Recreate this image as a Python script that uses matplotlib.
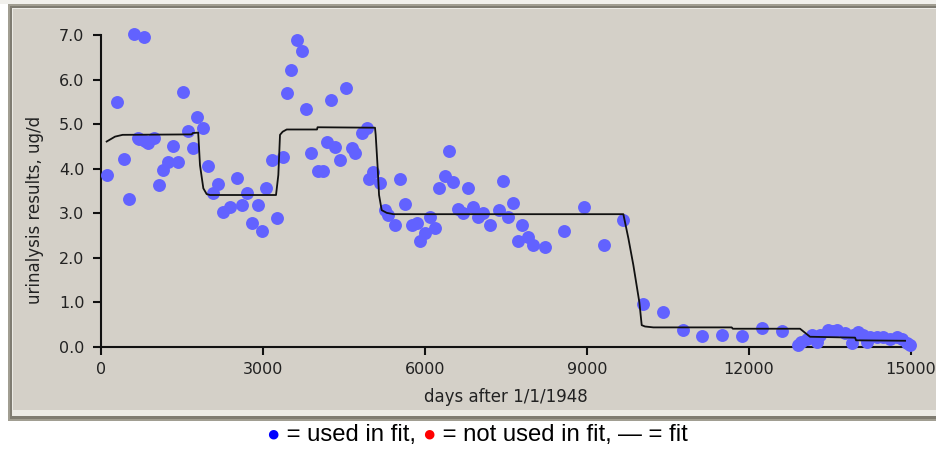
import matplotlib
matplotlib.use("Agg")
import matplotlib.pyplot as plt
from matplotlib.patches import Rectangle

# ---- data ----
days = [105, 290, 432, 513, 617, 690, 710, 796, 815, 876, 987, 1074, 1154, 1247, 1333,
        1432, 1525, 1605, 1704, 1784, 1895, 1988, 2080, 2161, 2265, 2389, 2525, 2605,
        2698, 2790, 2914, 2975, 3056, 3161, 3254, 3364, 3439, 3519, 3624, 3717, 3797,
        3889, 4013, 4105, 4180, 4254, 4334, 4426, 4531, 4642, 4704, 4828, 4920, 4970,
        5043, 5167, 5260, 5321, 5445, 5537, 5630, 5754, 5846, 5908, 6000, 6093, 6186,
        6260, 6371, 6445, 6525, 6618, 6711, 6803, 6895, 6988, 7080, 7204, 7370, 7440,
        7543, 7636, 7728, 7791, 7914, 8006, 8223, 8580, 8945, 9321, 9673, 10040, 10414,
        10773, 11136, 11507, 11866, 12236, 12606, 12900, 12960, 13069, 13162, 13254,
        13316, 13470, 13550, 13624, 13779, 13902, 13933, 14026, 14118, 14180, 14241,
        14365, 14488, 14612, 14735, 14828, 14920, 14980]
ugd = [3.87, 5.49, 4.21, 3.31, 7.02, 4.68, 4.66, 6.96, 4.62, 4.57, 4.70, 3.63, 3.97, 4.16, 4.50,
       4.16, 5.71, 4.85, 4.47, 5.15, 4.91, 4.06, 3.45, 3.65, 3.02, 3.13, 3.80, 3.19,
       3.46, 2.78, 3.19, 2.60, 3.56, 4.20, 2.89, 4.27, 5.69, 6.21, 6.89, 6.64, 5.34,
       4.35, 3.95, 3.95, 4.61, 5.54, 4.48, 4.20, 5.82, 4.46, 4.35, 4.80, 4.91, 3.77,
       3.93, 3.67, 3.07, 2.96, 2.74, 3.77, 3.20, 2.74, 2.78, 2.38, 2.55, 2.92, 2.66,
       3.56, 3.84, 4.40, 3.71, 3.10, 3.00, 3.56, 3.15, 2.92, 3.00, 2.74, 3.07, 3.73,
       2.92, 3.22, 2.38, 2.74, 2.47, 2.29, 2.25, 2.60, 3.13, 2.29, 2.85, 0.97, 0.79,
       0.38, 0.25, 0.28, 0.25, 0.42, 0.37, 0.05, 0.12, 0.19, 0.27, 0.12,
       0.27, 0.38, 0.36, 0.38, 0.31, 0.08, 0.27, 0.34, 0.27, 0.12, 0.23,
       0.23, 0.22, 0.19, 0.22, 0.19, 0.08, 0.04]

fit_days = [105, 260, 400, 1680, 1700, 1800, 1833, 1895, 1957, 2019, 3241, 3284, 3315,
            3364, 3439, 4000, 4010, 5074, 5087, 5124, 5149, 5198, 5291, 5414, 9673,
            9766, 9858, 9970, 10013, 10075, 10229, 11680, 11700, 12945, 13130, 13964,
            13983, 14890]
fit_ugd = [4.61, 4.72, 4.76, 4.77, 4.80, 4.81, 4.08, 3.56, 3.43, 3.41, 3.41, 3.86, 4.76,
           4.83, 4.88, 4.88, 4.93, 4.92, 4.76, 4.01, 3.41, 3.07, 3.01, 2.98, 2.98,
           2.44, 1.84, 1.00, 0.49, 0.46, 0.44, 0.44, 0.41, 0.41, 0.23, 0.21,
           0.15, 0.14]

x_ticks = [0, 3000, 6000, 9000, 12000, 15000]
y_ticks = [0.0, 1.0, 2.0, 3.0, 4.0, 5.0, 6.0, 7.0]
x_label = "days after 1/1/1948"
y_label = "urinalysis results, ug/d"
legend_parts = ["●", " = used in fit, ", "●", " = not used in fit, ", "— = fit"]

W, H = 937, 449
fig = plt.figure(figsize=(W / 100, H / 100), dpi=100)
fig.patch.set_facecolor("white")

def prect(x0, ytop0, x1, ytop1, color):
    fig.patches.append(Rectangle((x0, H - ytop1), x1 - x0, ytop1 - ytop0,
                                 transform=None, facecolor=color, edgecolor="none",
                                 zorder=-10))

# bevelled grey panel
prect(0, 0, W + 5, 4, "#f1f0ec")
prect(8, 4, W + 5, 421, "#a19e92")
prect(10, 6, W + 5, 419, "#7f7c72")
prect(12, 8, W + 5, 416, "#ecebe6")
prect(13, 9, W + 5, 410, "#d4d0c8")

ax = fig.add_axes([101 / W, 102 / H, 810 / W, 312 / H])
ax.set_facecolor("none")
ax.set_xlim(0, 15000)
ax.set_ylim(0, 7)
for s in ("top", "right"):
    ax.spines[s].set_visible(False)
for s in ("left", "bottom"):
    ax.spines[s].set_linewidth(1.5)
    ax.spines[s].set_color("#111111")

ax.plot(days, ugd, linestyle="none", marker="o", markersize=9.3,
        markerfacecolor="#6262ff", markeredgecolor="none", clip_on=False, zorder=3)
ax.plot(fit_days, fit_ugd, color="#111111", linewidth=1.3, clip_on=False, zorder=4)

tick_font = dict(family=["DejaVu Sans"], size=11.5, color="#222222")
ax.set_xticks(x_ticks)
ax.set_xticklabels([str(v) for v in x_ticks], **tick_font)
ax.set_yticks(y_ticks)
ax.set_yticklabels([f"{v:.1f}" for v in y_ticks], **tick_font)
ax.tick_params(axis="both", direction="out", length=6, width=1.5, color="#111111")
ax.tick_params(axis="y", pad=6)
ax.tick_params(axis="x", pad=5)
ax.set_xlabel(x_label, family=["DejaVu Sans"], size=12, color="#222222", labelpad=8)
ax.set_ylabel(y_label, family=["DejaVu Sans"], size=12, color="#222222")
ax.yaxis.set_label_coords(-0.07, 0.44)

# legend line below panel
fig.canvas.draw()
renderer = fig.canvas.get_renderer()
styles = [("#0000ff", 16), ("black", 17.2), ("#ff0000", 16), ("black", 17.2), ("black", 17.2)]
xpix = 266
ybase = H - 441
for txt, (col, sz) in zip(legend_parts, styles):
    t = fig.text(xpix / W, ybase / H, txt, color=col, fontsize=sz,
                 family=["Liberation Sans", "DejaVu Sans"], va="baseline", ha="left")
    bb = t.get_window_extent(renderer)
    xpix = bb.x1

fig.savefig("out.png", dpi=100)
